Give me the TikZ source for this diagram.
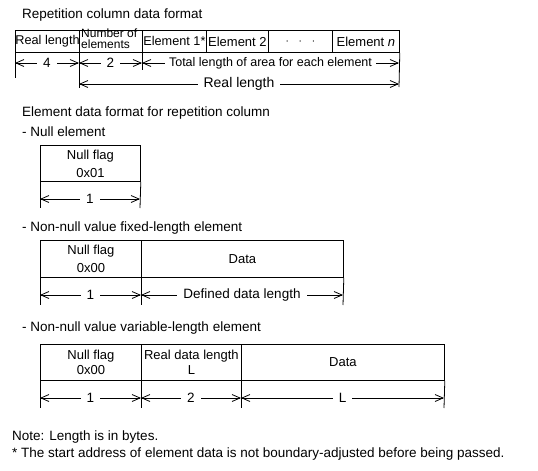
\documentclass[tikz,border=0pt]{standalone}
\usepackage{fontspec}
\setmainfont{Liberation Sans}
\usetikzlibrary{arrows.meta}
\begin{document}
\begin{tikzpicture}[x=1pt,y=-1pt,
  every node/.style={font=\fontsize{13.5}{16}\selectfont},
  lbl/.style={anchor=west, inner sep=0pt},
  cell/.style={draw, line width=0.8pt, anchor=north west, inner sep=0pt, align=center, font=\fontsize{13}{15}\selectfont},
  tick/.style={line width=0.8pt},
  dim/.style={line width=0.8pt, {Straight Barb[length=8pt,width=7pt]}-{Straight Barb[length=8pt,width=7pt]}},
  dimlbl/.style={fill=white, inner xsep=6pt, inner ysep=1pt}
]
\useasboundingbox (0,0) rectangle (538,471);

% ---------- Repetition column data format ----------
\node[lbl] (title) at (22,15) {Repetition column data format};
\node[cell, minimum width=64, minimum height=22, font=\fontsize{12.7}{15}\selectfont] (c1) at (15,30) {Real length};
\node[cell, minimum width=63, minimum height=22] (c2) at (79,30) {};
\node[anchor=north west, inner sep=0pt, align=left, font=\fontsize{12}{10.5}\selectfont] (c2t) at (81,29) {Number of\\elements};
\node[cell, minimum width=64, minimum height=22, font=\fontsize{12.7}{15}\selectfont] (c3) at (142,30) {Element 1*};
\node[cell, minimum width=62, minimum height=22] (c4) at (206,30) {Element 2};
\node[cell, minimum width=64, minimum height=22] (c5) at (268,30) {$\cdot\ \ \cdot\ \ \cdot$};
\node[cell, minimum width=67, minimum height=22] (c6) at (332,30) {Element \textit{n}};

\coordinate (t1) at (15,78);
\coordinate (t2) at (79,88);
\coordinate (t3) at (142,70);
\coordinate (t4) at (399,87);
\draw[tick] (c1.south west) -- (t1);
\draw[tick] (c2.south west) -- (t2);
\draw[tick] (c3.south west) -- (t3);
\draw[tick] (c6.south east) -- (t4);

\coordinate (a1) at (15,63);
\coordinate (a2) at (79,63);
\coordinate (a3) at (142,63);
\coordinate (a4) at (399,63);
\coordinate (b1) at (79,84);
\coordinate (b2) at (399,84);
\draw[dim] (a1) -- node[dimlbl] {4} (a2);
\draw[dim] (a2) -- node[dimlbl] {2} (a3);
\draw[dim] (a3) -- node[dimlbl, font=\fontsize{12.5}{15}\selectfont, inner xsep=4pt] {Total length of area for each element} (a4);
\draw[dim] (b1) -- node[dimlbl, font=\fontsize{14}{16}\selectfont] {Real length} (b2);

% ---------- Element data format ----------
\node[lbl] (sub) at (22,113) {Element data format for repetition column};
\node[lbl] (s1) at (22,132) {- Null element};

\node[cell, minimum width=100, minimum height=36] (n1) at (40,145) {Null flag\\[3pt]0x01};
\coordinate (n1l) at (40,208);
\coordinate (n1r) at (140,208);
\draw[tick] (n1.south west) -- (n1l);
\draw[tick] (n1.south east) -- (n1r);
\coordinate (n1a) at (40,199);
\coordinate (n1b) at (140,199);
\draw[dim] (n1a) -- node[dimlbl] {1} (n1b);

\node[lbl] (s2) at (22,228) {- Non-null value fixed-length element};
\node[cell, minimum width=101, minimum height=37] (f1) at (40,240) {Null flag\\[3pt]0x00};
\node[cell, minimum width=202, minimum height=37] (f2) at (141,240) {Data};
\coordinate (f1l) at (40,305);
\coordinate (f1r) at (141,305);
\coordinate (f2r) at (343,305);
\draw[tick] (f1.south west) -- (f1l);
\draw[tick] (f2.south west) -- (f1r);
\draw[tick] (f2.south east) -- (f2r);
\coordinate (fa) at (40,295);
\coordinate (fb) at (141,295);
\coordinate (fc) at (343,295);
\draw[dim] (fa) -- node[dimlbl] {1} (fb);
\draw[dim] (fb) -- node[dimlbl] {Defined data length} (fc);

\node[lbl] (s3) at (22,328) {- Non-null value variable-length element};
\node[cell, minimum width=101, minimum height=36] (v1) at (40,344) {Null flag\\[0pt]0x00};
\node[cell, minimum width=100, minimum height=36] (v2) at (141,344) {Real data length\\[0pt]L};
\node[cell, minimum width=203, minimum height=36] (v3) at (241,344) {Data};
\coordinate (v1l) at (40,408);
\coordinate (v2l) at (141,408);
\coordinate (v3l) at (241,408);
\coordinate (v3r) at (444,408);
\draw[tick] (v1.south west) -- (v1l);
\draw[tick] (v2.south west) -- (v2l);
\draw[tick] (v3.south west) -- (v3l);
\draw[tick] (v3.south east) -- (v3r);
\coordinate (va) at (40,398);
\coordinate (vb) at (141,398);
\coordinate (vc) at (241,398);
\coordinate (vd) at (444,398);
\draw[dim] (va) -- node[dimlbl] {1} (vb);
\draw[dim] (vb) -- node[dimlbl] {2} (vc);
\draw[dim] (vc) -- node[dimlbl] {L} (vd);

% ---------- Notes ----------
\node[lbl] (note1) at (12,437) {Note: Length is in bytes.};
\node[lbl] (note2) at (12,454) {* The start address of element data is not boundary-adjusted before being passed.};
\end{tikzpicture}
\end{document}
